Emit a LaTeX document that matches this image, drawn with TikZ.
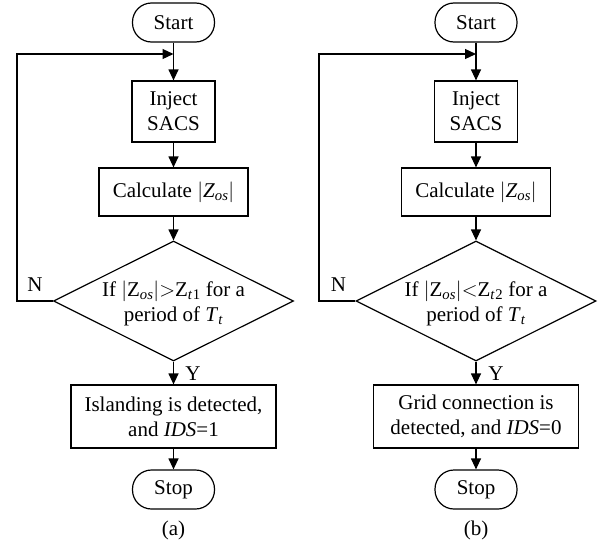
\documentclass[tikz,border=0pt]{standalone}
\usepackage{fontspec}
\setmainfont{Liberation Serif}
\usetikzlibrary{shapes.geometric,arrows.meta}
\newcommand{\sub}[1]{\textsubscript{\textit{#1}}}
\begin{document}
\begin{tikzpicture}[x=1pt,y=-1pt,
  txt/.style={font=\fontsize{21}{25}\selectfont, align=center, inner sep=0pt},
  base/.style={txt, draw, line width=1.2pt},
  term/.style={base, rounded corners=19pt, minimum width=82pt, minimum height=39pt},
  proc/.style={base},
  dec/.style={base, diamond, minimum width=240pt, minimum height=120pt},
  arr/.style={line width=1.2pt, -{Triangle[length=11pt,width=10pt]}},
  ln/.style={line width=1.2pt}]
\useasboundingbox (0,0) rectangle (599,546);

% ---------- (a) ----------
\node[term] (s1) at (173.5,22.5) {Start};
\coordinate (m1) at (173.5,54);
\node[proc, minimum width=83pt, minimum height=61pt] (i1) at (173.5,111.5) {Inject\\SACS};
\node[proc, minimum width=149pt, minimum height=48pt] (c1) at (173.5,192) {Calculate $|$\textit{Z}\sub{os}$|$};
\node[dec] (d1) at (173.5,301) {};
\node[txt] (d1t) at (173.5,303) {If $|$Z\sub{os}$|$$>$Z\sub{t}\textsubscript{1} for a\\period of \textit{T}\sub{t}};
\node[proc, minimum width=205pt, minimum height=63pt] (r1) at (173.5,416.5) {Islanding is detected,\\and \textit{IDS}=1};
\node[term] (e1) at (173.5,489.5) {Stop};
\node[txt] (n1) at (35,285) {N};
\node[txt] (y1) at (193,374) {Y};
\node[txt] (a1) at (173.5,530) {(a)};

\draw[arr] (s1) -- (i1);
\draw[arr] (i1) -- (c1);
\draw[arr] (c1) -- (d1);
\draw[arr] (d1) -- (r1);
\draw[arr] (r1) -- (e1);
\draw[arr] (d1.west) -- (17,301) |- (m1);

% ---------- (b) ----------
\node[term] (s2) at (476,22.5) {Start};
\coordinate (m2) at (476,54);
\node[proc, minimum width=83pt, minimum height=61pt] (i2) at (476,111.5) {Inject\\SACS};
\node[proc, minimum width=149pt, minimum height=48pt] (c2) at (476,192) {Calculate $|$\textit{Z}\sub{os}$|$};
\node[dec] (d2) at (476,301) {};
\node[txt] (d2t) at (476,303) {If $|$Z\sub{os}$|$$<$Z\sub{t}\textsubscript{2} for a\\period of \textit{T}\sub{t}};
\node[proc, minimum width=205pt, minimum height=63pt] (r2) at (476,416.5) {Grid connection is\\detected, and \textit{IDS}=0};
\node[term] (e2) at (476,489.5) {Stop};
\node[txt] (n2) at (338.5,285) {N};
\node[txt] (y2) at (496,374) {Y};
\node[txt] (a2) at (476,530) {(b)};

\draw[arr] (s2) -- (i2);
\draw[arr] (i2) -- (c2);
\draw[arr] (c2) -- (d2);
\draw[arr] (d2) -- (r2);
\draw[arr] (r2) -- (e2);
\draw[arr] (d2.west) -- (319,301) |- (m2);
\end{tikzpicture}
\end{document}
